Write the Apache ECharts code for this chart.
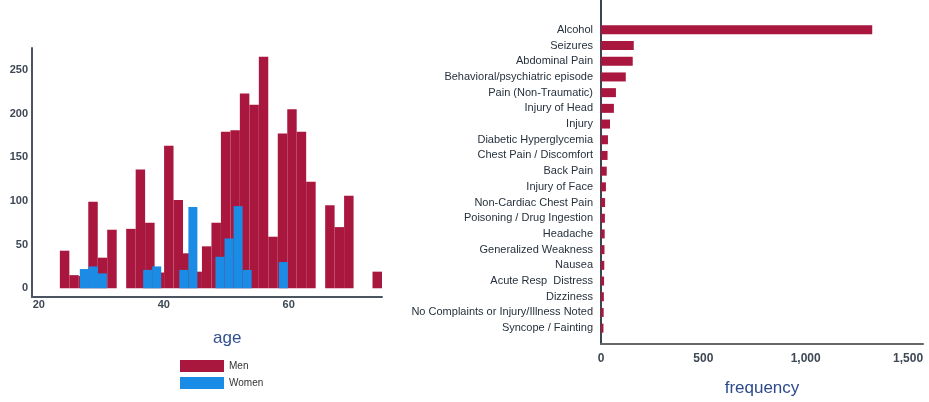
<!DOCTYPE html>
<html><head><meta charset="utf-8">
<script src="https://cdn.jsdelivr.net/npm/echarts@6/dist/echarts.min.js"></script>
<style>html,body{margin:0;padding:0;background:#fff}#c{width:929px;height:402px}</style>
</head><body><div id="c"></div>
<script>
// Left histogram: bin edges (age) and counts
const menBinEdges = [23.36, 24.88, 26.39, 27.91, 29.43, 30.94, 32.46, 33.98, 35.50, 37.01, 38.53, 40.05, 41.56, 43.08, 44.60, 46.11, 47.63, 49.15, 50.67, 52.18, 53.70, 55.22, 56.73, 58.25, 59.77, 61.28, 62.80, 64.32, 65.84, 67.35, 68.87, 70.39, 71.90, 73.42, 74.94];
const menCounts = [43, 15, 14, 99, 35, 67, 0, 68, 136, 75, 18, 163, 101, 40, 19, 48, 75, 179, 181, 223, 210, 265, 59, 177, 205, 179, 122, 0, 95, 70, 106, 0, 0, 19];
const womenBinEdges = [26.56, 28.01, 29.46, 30.90, 32.35, 33.80, 35.25, 36.70, 38.14, 39.59, 41.04, 42.49, 43.94, 45.38, 46.83, 48.28, 49.73, 51.18, 52.62, 54.07, 55.52, 56.97, 58.42, 59.86];
const womenCounts = [22, 25, 17, 0, 0, 0, 0, 21, 25, 0, 0, 21, 93, 0, 0, 36, 57, 94, 21, 0, 0, 0, 30];
const ageTicks = [20, 40, 60];
const countTicks = [0, 50, 100, 150, 200, 250];

// Right bar chart
const complaints = ['Alcohol', 'Seizures', 'Abdominal Pain', 'Behavioral/psychiatric episode', 'Pain (Non-Traumatic)', 'Injury of Head', 'Injury', 'Diabetic Hyperglycemia', 'Chest Pain / Discomfort', 'Back Pain', 'Injury of Face', 'Non-Cardiac Chest Pain', 'Poisoning / Drug Ingestion', 'Headache', 'Generalized Weakness', 'Nausea', 'Acute Resp  Distress', 'Dizziness', 'No Complaints or Injury/Illness Noted', 'Syncope / Fainting'];
const frequency = [1325, 160, 155, 121, 73, 63, 44, 34, 32, 28, 24, 20, 19, 18, 17, 16, 15, 14, 13, 12];
const freqTicks = [0, 500, 1000, 1500];

const RED = '#A9173F', BLUE = '#1A8CE6';
function bins(edges, counts) {
  const out = [];
  for (let i = 0; i < counts.length; i++) if (counts[i] > 0) out.push([edges[i], edges[i + 1], counts[i]]);
  return out;
}
function renderHist(color) {
  return function (params, api) {
    const p0 = api.coord([api.value(0), api.value(2)]);
    const p1 = api.coord([api.value(1), 0]);
    return { type: 'rect', shape: { x: p0[0], y: p0[1], width: p1[0] - p0[0], height: p1[1] - p0[1] }, style: { fill: color } };
  };
}
const axisCol = '#4a5561';
const tickFont = { color: '#3e4854', fontSize: 11, fontWeight: 'bold', fontFamily: 'Liberation Sans, Arial, sans-serif' };
const chart = echarts.init(document.getElementById('c'), null, { renderer: 'canvas' });
chart.setOption({
  animation: false,
  backgroundColor: '#fff',
  title: { text: 'age', left: 213, top: 330, padding: 0, textStyle: { fontSize: 17, fontWeight: 'normal', color: '#33508e', fontFamily: 'Liberation Sans, Arial, sans-serif' } },
  legend: {
    orient: 'vertical', left: 180, top: 360, itemWidth: 44, itemHeight: 12, itemGap: 5, padding: 0,
    textStyle: { fontSize: 10, color: '#333', fontFamily: 'Liberation Sans, Arial, sans-serif' },
    data: [{ name: 'Men', icon: 'rect' }, { name: 'Women', icon: 'rect' }]
  },
  grid: [
    { left: 32, top: 48, width: 350, height: 249 },
    { left: 601, right: 6, top: 0, bottom: 55 },
    { left: 601, right: 6, top: 22, bottom: 66 }
  ],
  xAxis: [
    { gridIndex: 0, type: 'value', min: 18.9, max: 74.94,
      axisLine: { show: true, onZero: false, lineStyle: { color: axisCol, width: 2 } },
      axisTick: { show: false }, splitLine: { show: false },
      axisLabel: Object.assign({ customValues: ageTicks, margin: 2 }, tickFont) },
    { gridIndex: 1, type: 'value', min: 0, max: 1573,
      name: 'frequency', nameLocation: 'middle', nameGap: 36,
      nameTextStyle: { fontSize: 17, color: '#2c4a8c', fontFamily: 'Liberation Sans, Arial, sans-serif' },
      axisLine: { show: true, onZero: false, lineStyle: { color: '#666', width: 2 } },
      axisTick: { show: false }, splitLine: { show: false },
      axisLabel: Object.assign({ customValues: freqTicks, margin: 9, formatter: v => v.toLocaleString('en-US') }, tickFont, { fontSize: 12 }) },
    { gridIndex: 2, type: 'value', min: 0, max: 1573, show: false }
  ],
  yAxis: [
    { gridIndex: 0, type: 'value', min: -10, max: 275,
      axisLine: { show: true, onZero: false, lineStyle: { color: axisCol, width: 2 } },
      axisTick: { show: false }, splitLine: { show: false },
      axisLabel: Object.assign({ customValues: countTicks, margin: 4 }, tickFont) },
    { gridIndex: 1, type: 'value', min: 0, max: 1,
      axisLine: { show: true, onZero: false, lineStyle: { color: '#3a4550', width: 2 } },
      axisTick: { show: false }, splitLine: { show: false }, axisLabel: { show: false } },
    { gridIndex: 2, type: 'category', inverse: true, data: complaints,
      axisLine: { show: false }, axisTick: { show: false }, splitLine: { show: false },
      axisLabel: { margin: 8, fontSize: 11, color: '#26313d', fontFamily: 'Liberation Sans, Arial, sans-serif' } }
  ],
  series: [
    { name: 'Men', type: 'custom', xAxisIndex: 0, yAxisIndex: 0, itemStyle: { color: RED },
      renderItem: renderHist(RED), encode: { x: [0, 1], y: 2 }, data: bins(menBinEdges, menCounts) },
    { name: 'Women', type: 'custom', xAxisIndex: 0, yAxisIndex: 0, itemStyle: { color: BLUE },
      renderItem: renderHist(BLUE), encode: { x: [0, 1], y: 2 }, data: bins(womenBinEdges, womenCounts) },
    { name: 'frequency', type: 'bar', xAxisIndex: 2, yAxisIndex: 2, barWidth: 9,
      itemStyle: { color: RED }, data: frequency }
  ]
});
</script></body></html>
